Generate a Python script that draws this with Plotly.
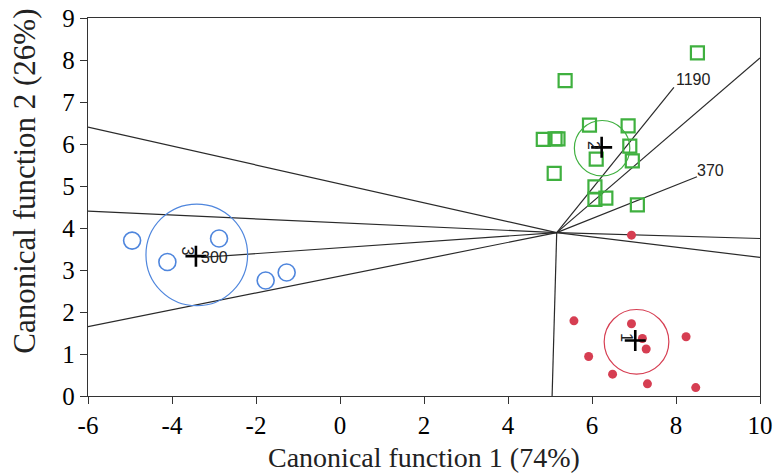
import plotly.graph_objects as go

# Group 1 (red filled dots)
g1_x = [6.94, 5.57, 6.94, 7.20, 7.29, 8.24, 5.92, 6.49, 7.32, 8.47]
g1_y = [3.83, 1.79, 1.72, 1.37, 1.12, 1.41, 0.94, 0.52, 0.29, 0.20]
# Group 2 (green open squares)
g2_x = [8.51, 5.36, 5.94, 6.86, 4.84, 5.12, 5.19, 6.90, 6.10, 6.96, 5.10, 6.07, 6.07, 6.33, 7.08]
g2_y = [8.17, 7.51, 6.45, 6.43, 6.11, 6.12, 6.12, 5.95, 5.64, 5.60, 5.30, 4.98, 4.68, 4.71, 4.55]
# Group 3 (blue open circles)
g3_x = [-4.95, -4.11, -2.88, -1.77, -1.27]
g3_y = [3.70, 3.19, 3.75, 2.75, 2.94]

# Group centroids and circle radii
cent_x = [7.03, 6.23, -3.43]
cent_y = [1.32, 5.92, 3.33]
circ_cx = [7.06, 6.24, -3.41]
circ_cy = [1.29, 5.90, 3.36]
circ_r = [0.77, 0.66, 1.21]
group_names = ["1", "2", "3"]
group_colors = ["#d63e52", "#3fb03f", "#4f86dd"]
grp_lbl_x = [6.84, 6.04, -3.63]
grp_lbl_y = [1.40, 5.96, 3.45]

# Territorial boundaries / vectors from common origin
origin = (5.16, 3.89)
bound_x = [-6, -6, -6, 10, 10, 10, 5.05]
bound_y = [6.4, 4.4, 1.65, 8.05, 3.75, 3.3, 0]
vec_x = [-3.3, 7.95, 8.5]
vec_y = [3.3, 7.35, 5.22]
vec_labels = ["300", "1190", "370"]
vec_lbl_x = [-3.36, 7.95, 8.45]
vec_lbl_y = [3.30, 7.53, 5.37]

x_ticks = [-6, -4, -2, 0, 2, 4, 6, 8, 10]
y_ticks = [0, 1, 2, 3, 4, 5, 6, 7, 8, 9]

fig = go.Figure()

lx, ly = [], []
for x, y in zip(bound_x + vec_x, bound_y + vec_y):
    lx += [origin[0], x, None]
    ly += [origin[1], y, None]
fig.add_trace(go.Scatter(x=lx, y=ly, mode="lines",
                         line=dict(color="#2a2a2a", width=1.2),
                         hoverinfo="skip", showlegend=False))

fig.add_trace(go.Scatter(x=g3_x, y=g3_y, mode="markers",
                         marker=dict(symbol="circle-open", size=17,
                                     color=group_colors[2], line=dict(width=1.6)),
                         showlegend=False))
fig.add_trace(go.Scatter(x=g2_x, y=g2_y, mode="markers",
                         marker=dict(symbol="square-open", size=13,
                                     color=group_colors[1], line=dict(width=2.2)),
                         showlegend=False))
fig.add_trace(go.Scatter(x=g1_x, y=g1_y, mode="markers",
                         marker=dict(symbol="circle", size=9,
                                     color=group_colors[0]),
                         showlegend=False))

for cx, cy, r, c in zip(circ_cx, circ_cy, circ_r, group_colors):
    fig.add_shape(type="circle", xref="x", yref="y",
                  x0=cx - r, x1=cx + r, y0=cy - r, y1=cy + r,
                  line=dict(color=c, width=1.2))

fig.add_trace(go.Scatter(x=cent_x, y=cent_y, mode="markers",
                         marker=dict(symbol="cross-thin", size=15,
                                     line=dict(color="black", width=2.6)),
                         showlegend=False))

for t, x, y in zip(group_names, grp_lbl_x, grp_lbl_y):
    fig.add_annotation(x=x, y=y, text=t, showarrow=False, textangle=90,
                       font=dict(family="Liberation Sans, Arial", size=16, color="#222"))

for t, x, y in zip(vec_labels, vec_lbl_x, vec_lbl_y):
    fig.add_annotation(x=x, y=y, text=t, showarrow=False, xanchor="left",
                       font=dict(family="Liberation Sans, Arial", size=16, color="#222"))

serif = "Liberation Serif, Times New Roman"
axis_common = dict(showline=True, linecolor="#333", linewidth=1.3, mirror=True,
                   ticks="outside", ticklen=7, tickcolor="#333", tickwidth=1.2,
                   showgrid=False, zeroline=False, automargin=False,
                   tickfont=dict(family=serif, size=25, color="black"))

fig.update_xaxes(range=[-6, 10], tickvals=x_ticks, ticktext=[str(v) for v in x_ticks],
                 **axis_common)
fig.update_yaxes(range=[0, 9], tickvals=y_ticks, ticktext=[str(v) for v in y_ticks],
                 **axis_common)

# axis titles
fig.add_annotation(xref="paper", yref="paper", x=0.5, y=-0.162, yanchor="middle",
                   text="Canonical function 1 (74%)", showarrow=False,
                   font=dict(family=serif, size=28, color="#222"))
fig.add_annotation(xref="paper", yref="paper", x=-0.094, y=0.569, xanchor="center",
                   text="Canonical function 2 (26%)", showarrow=False, textangle=-90,
                   font=dict(family=serif, size=31, color="#222"))

fig.update_layout(width=777, height=474,
                  margin=dict(l=88, r=17, t=18, b=78, autoexpand=False),
                  plot_bgcolor="white", paper_bgcolor="white")

fig.write_html("out.html")
